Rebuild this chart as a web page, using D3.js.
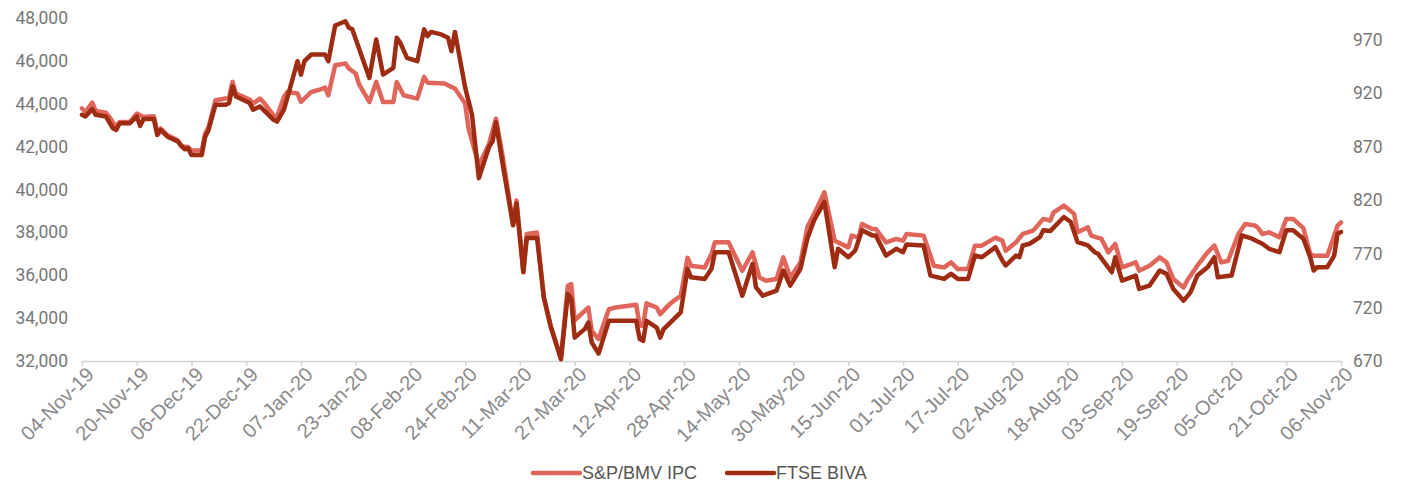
<!DOCTYPE html>
<html>
<head>
<meta charset="utf-8">
<script src="https://cdn.jsdelivr.net/npm/d3@7"></script>
<style>
  body { margin: 0; background: #fff; }
  .axis text { fill: #777; }
  .axis.x text { fill: #8a8a8a; }
  .legend text { fill: #555; }
</style>
</head>
<body>
<div id="chart"></div>
<script>
// S&P/BMV IPC (left axis)
const ipcDates = [
  "2019-11-04","2019-11-05","2019-11-07","2019-11-08","2019-11-11","2019-11-12","2019-11-14","2019-11-15",
  "2019-11-18","2019-11-20","2019-11-22","2019-11-25","2019-11-26","2019-11-27","2019-11-29","2019-12-02",
  "2019-12-03","2019-12-05","2019-12-06","2019-12-09","2019-12-10","2019-12-11","2019-12-13","2019-12-16",
  "2019-12-17","2019-12-18","2019-12-19","2019-12-23","2019-12-24","2019-12-26","2019-12-27","2019-12-30",
  "2019-12-31","2020-01-02","2020-01-03","2020-01-06","2020-01-07","2020-01-09","2020-01-10","2020-01-13",
  "2020-01-14","2020-01-15","2020-01-17","2020-01-20","2020-01-21","2020-01-23","2020-01-24","2020-01-27",
  "2020-01-29","2020-01-31","2020-02-03","2020-02-04","2020-02-06","2020-02-10","2020-02-12","2020-02-13",
  "2020-02-18","2020-02-20","2020-02-21","2020-02-24","2020-02-25","2020-02-28","2020-03-02","2020-03-04",
  "2020-03-06","2020-03-09","2020-03-10","2020-03-12","2020-03-13","2020-03-16","2020-03-18","2020-03-20",
  "2020-03-23","2020-03-25","2020-03-26","2020-03-27","2020-03-31","2020-04-01","2020-04-03","2020-04-06",
  "2020-04-08","2020-04-14","2020-04-15","2020-04-16","2020-04-17","2020-04-20","2020-04-21","2020-04-24",
  "2020-04-27","2020-04-29","2020-04-30","2020-05-04","2020-05-06","2020-05-07","2020-05-11","2020-05-15",
  "2020-05-18","2020-05-20","2020-05-22","2020-05-25","2020-05-27","2020-05-29","2020-06-01","2020-06-03",
  "2020-06-05","2020-06-08","2020-06-11","2020-06-15","2020-06-16","2020-06-18","2020-06-19","2020-06-22",
  "2020-06-23","2020-06-26","2020-06-29","2020-07-01","2020-07-02","2020-07-07","2020-07-10","2020-07-13",
  "2020-07-15","2020-07-17","2020-07-20","2020-07-22","2020-07-24","2020-07-28","2020-07-30","2020-07-31",
  "2020-08-03","2020-08-05","2020-08-08","2020-08-11","2020-08-13","2020-08-14","2020-08-17","2020-08-20",
  "2020-08-21","2020-08-24","2020-08-25","2020-08-28","2020-08-30","2020-09-01","2020-09-03","2020-09-07",
  "2020-09-08","2020-09-11","2020-09-14","2020-09-16","2020-09-18","2020-09-21","2020-09-22","2020-09-25",
  "2020-09-28","2020-09-30","2020-10-01","2020-10-02","2020-10-04","2020-10-07","2020-10-09","2020-10-12",
  "2020-10-13","2020-10-14","2020-10-16","2020-10-19","2020-10-21","2020-10-23","2020-10-26","2020-10-28",
  "2020-10-29","2020-11-02","2020-11-03","2020-11-05","2020-11-06"
];
const ipc = [
  43780,43615,44055,43662,43587,43381,42914,43148,
  43148,43541,43381,43414,42680,42839,42526,42292,
  42011,41978,41824,41824,42605,42914,44163,44242,
  44289,45019,44476,44196,44008,44242,44083,43461,
  43381,44317,44551,44476,44083,44397,44550,44680,
  44757,44397,45800,45880,45646,45412,44900,44083,
  45019,44083,44083,45019,44397,44242,45253,44981,
  44944,44785,44710,44008,42839,41122,42137,43307,
  41510,38395,39485,36210,37927,37990,34961,33558,
  32154,35509,35588,33900,34493,33403,33029,34419,
  34493,34620,33650,33640,34690,34493,34185,34690,
  35041,36818,36444,36365,36991,37534,37534,36210,
  37066,35897,35742,35822,36832,35897,36598,38236,
  38863,39873,37614,37300,37848,37768,38395,38161,
  38161,37534,37693,37614,37927,37848,36444,36365,
  36598,36290,36290,37380,37380,37754,37614,37146,
  37534,37927,38081,38629,38549,38937,39251,38863,
  38002,38236,37848,37693,37066,37459,36365,36598,
  36210,36444,36832,36598,35822,35429,35742,36444,
  37066,37380,36991,36598,36678,37927,38395,38315,
  38161,37927,38002,37768,38629,38629,38200,36991,
  36912,36912,37380,38315,38470
];

// FTSE BIVA (right axis)
const bivaDates = [
  "2019-11-04","2019-11-05","2019-11-07","2019-11-08","2019-11-11","2019-11-13","2019-11-14","2019-11-15",
  "2019-11-18","2019-11-20","2019-11-21","2019-11-22","2019-11-25","2019-11-26","2019-11-27","2019-11-29",
  "2019-12-02","2019-12-04","2019-12-05","2019-12-06","2019-12-09","2019-12-10","2019-12-11","2019-12-13",
  "2019-12-16","2019-12-17","2019-12-18","2019-12-19","2019-12-23","2019-12-24","2019-12-26","2019-12-30",
  "2019-12-31","2020-01-02","2020-01-03","2020-01-06","2020-01-07","2020-01-08","2020-01-10","2020-01-14",
  "2020-01-15","2020-01-17","2020-01-20","2020-01-21","2020-01-22","2020-01-27","2020-01-29","2020-01-31",
  "2020-02-03","2020-02-04","2020-02-05","2020-02-07","2020-02-10","2020-02-12","2020-02-13","2020-02-14",
  "2020-02-17","2020-02-19","2020-02-20","2020-02-21","2020-02-24","2020-02-26","2020-02-28","2020-03-02",
  "2020-03-03","2020-03-04","2020-03-06","2020-03-09","2020-03-10","2020-03-12","2020-03-13","2020-03-16",
  "2020-03-18","2020-03-20","2020-03-23","2020-03-25","2020-03-26","2020-03-27","2020-03-30","2020-03-31",
  "2020-04-01","2020-04-03","2020-04-06","2020-04-14","2020-04-15","2020-04-16","2020-04-17","2020-04-20",
  "2020-04-21","2020-04-22","2020-04-23","2020-04-27","2020-04-29","2020-04-30","2020-05-04","2020-05-06",
  "2020-05-07","2020-05-11","2020-05-15","2020-05-18","2020-05-19","2020-05-21","2020-05-25","2020-05-27",
  "2020-05-29","2020-06-01","2020-06-03","2020-06-05","2020-06-08","2020-06-11","2020-06-12","2020-06-15",
  "2020-06-17","2020-06-19","2020-06-22","2020-06-23","2020-06-26","2020-06-29","2020-07-01","2020-07-02",
  "2020-07-07","2020-07-09","2020-07-13","2020-07-15","2020-07-17","2020-07-20","2020-07-22","2020-07-24",
  "2020-07-28","2020-07-30","2020-07-31","2020-08-03","2020-08-04","2020-08-05","2020-08-07","2020-08-10",
  "2020-08-11","2020-08-13","2020-08-17","2020-08-19","2020-08-21","2020-08-24","2020-08-26","2020-08-27",
  "2020-08-31","2020-09-01","2020-09-03","2020-09-07","2020-09-08","2020-09-11","2020-09-14","2020-09-16",
  "2020-09-18","2020-09-21","2020-09-23","2020-09-25","2020-09-28","2020-09-30","2020-10-01","2020-10-05",
  "2020-10-08","2020-10-11","2020-10-14","2020-10-16","2020-10-19","2020-10-21","2020-10-23","2020-10-26",
  "2020-10-28","2020-10-29","2020-10-30","2020-11-02","2020-11-04","2020-11-05","2020-11-06"
];
const biva = [
  899.7,898.1,905.0,899.7,898.1,887.2,885.6,891.9,
  891.9,898.1,889.4,895.7,895.7,880.9,885.6,879.3,
  874.7,867.5,868.5,862.2,862.2,879.3,885.6,909.1,
  909.1,910.7,926.2,916.8,910.7,904.4,907.5,895.0,
  893.4,904.4,915.3,949.7,937.2,949.7,955.9,955.9,
  949.7,983.0,987.0,981.0,979.4,934.1,970.0,937.2,
  943.5,971.6,967.0,952.8,949.7,979.4,973.1,977.0,
  974.7,971.6,959.0,977.0,925.0,899.7,840.6,870.0,
  874.7,892.7,853.0,796.6,816.9,752.8,784.8,784.8,
  729.1,702.8,671.6,732.5,728.0,691.8,700.0,705.9,
  687.2,677.0,707.5,707.5,690.6,688.8,707.5,701.2,
  691.8,699.7,702.8,715.3,756.0,748.1,746.6,756.0,
  771.5,771.5,730.9,760.7,738.7,730.9,735.6,754.4,
  740.3,756.0,784.1,801.3,818.4,757.5,774.7,766.8,
  773.1,791.9,787.2,787.2,768.4,774.7,771.5,778.8,
  777.8,749.7,746.6,751.3,746.6,746.6,768.4,766.8,
  776.2,763.8,759.1,768.4,766.8,777.8,779.4,785.6,
  791.9,791.2,804.3,799.7,780.9,777.8,771.5,770.0,
  752.8,766.8,745.0,749.7,737.2,740.3,754.4,751.3,
  737.2,726.3,734.0,749.7,757.5,766.8,748.1,749.7,
  787.2,784.1,779.4,774.7,771.5,791.9,791.9,784.1,
  766.8,754.4,757.5,757.5,768.4,788.8,790.3
];

const seriesNames = ["S&P/BMV IPC", "FTSE BIVA"];
const seriesColors = ["#e0655a", "#9e2c12"];
const leftTicks = [32000, 34000, 36000, 38000, 40000, 42000, 44000, 46000, 48000];
const rightTicks = [670, 720, 770, 820, 870, 920, 970];
const tickStart = "2019-11-04", tickEnd = "2020-11-06", tickStepDays = 16;

const parseDate = d3.timeParse("%Y-%m-%d");

const margin = {top: 18, right: 62, bottom: 124, left: 82};
const W = 1403, H = 485;
const width = W - margin.left - margin.right;
const height = H - margin.top - margin.bottom;

const svg = d3.select("#chart").append("svg")
    .attr("width", W)
    .attr("height", H)
  .append("g")
    .attr("transform", "translate(" + margin.left + "," + margin.top + ")");

const x = d3.scaleTime()
  .domain([parseDate(tickStart), parseDate(tickEnd)])
  .range([0, width]);
const yL = d3.scaleLinear().domain([32000, 48000]).range([height, 0]);
const yR = d3.scaleLinear().domain([670, 990]).range([height, 0]);

// x axis: a tick every 16 days, like the original
const xTicks = d3.timeDay.range(parseDate(tickStart), d3.timeDay.offset(parseDate(tickEnd), 1))
  .filter((d, i) => i % tickStepDays === 0);

const xAxis = svg.append("g")
    .attr("class", "axis x")
    .attr("transform", "translate(0," + height + ")")
    .call(d3.axisBottom(x).tickValues(xTicks).tickSize(5).tickSizeOuter(0).tickFormat(d3.timeFormat("%d-%b-%y")));
xAxis.select(".domain").attr("stroke", "#d4d4d4").attr("stroke-width", 1.5);
xAxis.selectAll(".tick line").attr("stroke", "#d4d4d4").attr("stroke-width", 1.5);
xAxis.selectAll("text")
    .attr("font-family", "'Liberation Sans', Arial, sans-serif")
    .attr("font-size", 20)
    .attr("text-anchor", "end")
    .attr("dy", 0)
    .attr("transform", "translate(7,9) rotate(-45)");

const leftAxis = svg.append("g")
    .attr("class", "axis")
    .call(d3.axisLeft(yL).tickValues(leftTicks).tickSize(0).tickPadding(14).tickFormat(d3.format(",")));
leftAxis.select(".domain").remove();
leftAxis.selectAll("text").attr("font-family", "Roboto, sans-serif").attr("font-size", 17.5);

const rightAxis = svg.append("g")
    .attr("class", "axis")
    .attr("transform", "translate(" + width + ",0)")
    .call(d3.axisRight(yR).tickValues(rightTicks).tickSize(0).tickPadding(12));
rightAxis.select(".domain").remove();
rightAxis.selectAll("text").attr("font-family", "Roboto, sans-serif").attr("font-size", 17.5);

const ipcData = ipcDates.map((d, i) => ({date: parseDate(d), value: ipc[i]}));
const bivaData = bivaDates.map((d, i) => ({date: parseDate(d), value: biva[i]}));

const lineL = d3.line().x(d => x(d.date)).y(d => yL(d.value));
const lineR = d3.line().x(d => x(d.date)).y(d => yR(d.value));

svg.append("path")
    .datum(ipcData)
    .attr("fill", "none")
    .attr("stroke", seriesColors[0])
    .attr("stroke-width", 4.5)
    .attr("stroke-linejoin", "round")
    .attr("stroke-linecap", "round")
    .attr("d", lineL);

svg.append("path")
    .datum(bivaData)
    .attr("fill", "none")
    .attr("stroke", seriesColors[1])
    .attr("stroke-width", 4.5)
    .attr("stroke-linejoin", "round")
    .attr("stroke-linecap", "round")
    .attr("d", lineR);

// legend
const legend = d3.select("svg").append("g")
    .attr("class", "legend")
    .attr("transform", "translate(533,473)");
const legendX = [0, 194];
seriesNames.forEach((name, i) => {
  const g = legend.append("g").attr("transform", "translate(" + legendX[i] + ",0)");
  g.append("line")
      .attr("x1", 0).attr("x2", 47)
      .attr("stroke", seriesColors[i])
      .attr("stroke-width", 4.5)
      .attr("stroke-linecap", "round");
  g.append("text")
      .attr("x", 49)
      .attr("dy", "0.35em")
      .attr("font-family", "'Liberation Sans', Arial, sans-serif")
      .attr("font-size", 18)
      .text(name);
});
</script>
</body>
</html>
